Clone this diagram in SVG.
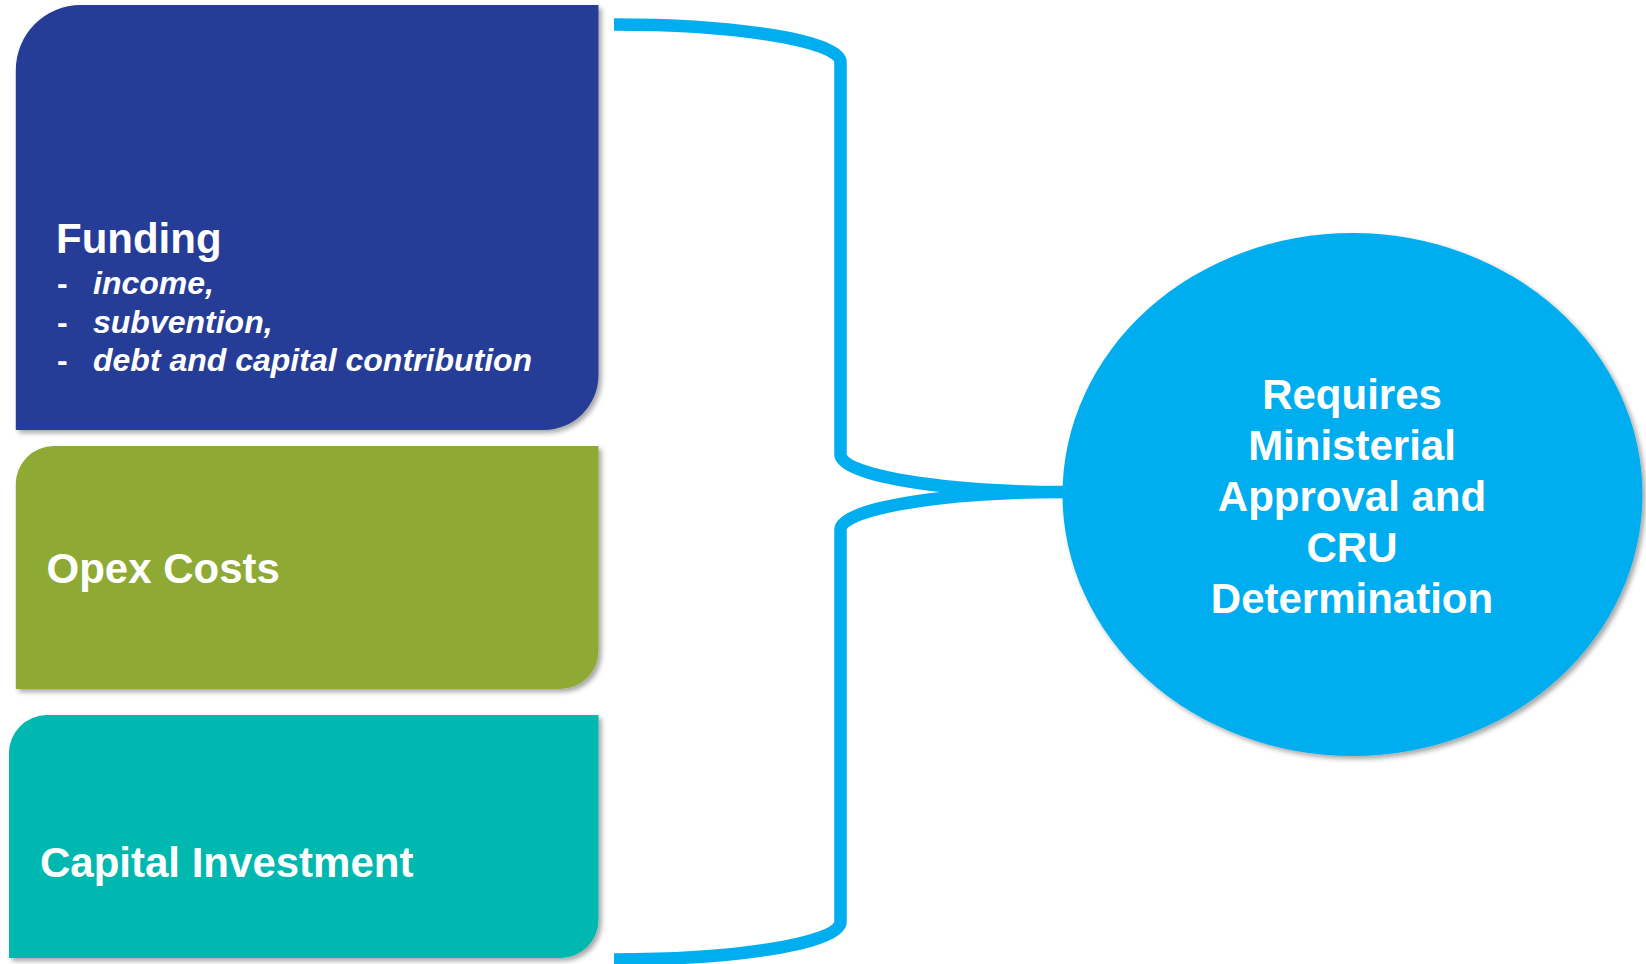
<svg xmlns="http://www.w3.org/2000/svg" width="1646" height="964" viewBox="0 0 1646 964">
  <style>
    .lbl { font-family: "Liberation Sans", Arial, sans-serif; font-weight: bold; fill: #ffffff; }
    .big { font-size: 42px; }
    .mid { text-anchor: middle; }
    .item { font-size: 32px; font-style: italic; }
    .dash { font-size: 32px; }
    .brace { fill: none; stroke: #00AEEF; stroke-width: 12.5; stroke-linecap: butt; }
  </style>
  <defs>
    <filter id="shadow" x="-5%" y="-5%" width="115%" height="115%">
      <feDropShadow dx="3" dy="3" stdDeviation="2.5" flood-color="#000000" flood-opacity="0.35"/>
    </filter>
  </defs>
  <rect width="1646" height="964" fill="#ffffff"/>

  <g id="connectors">
    <path class="brace" d="M 614 24.5 A 226.5 37.5 0 0 1 840.5 62 L 840.5 454.5 A 225.5 37.5 0 0 0 1066 492 A 225.5 37.5 0 0 0 840.5 529.5 L 840.5 922 A 226.5 37.5 0 0 1 614 959.5"/>
  </g>

  <g id="funding">
    <path filter="url(#shadow)" fill="#253C97" d="M 15.8 70 A 65 65 0 0 1 80.8 5 L 598.5 5 L 598.5 375 A 55 55 0 0 1 543.5 430 L 15.8 430 Z"/>
    <text class="lbl big" x="56" y="253">Funding</text>
    <text class="lbl dash" x="57" y="294">-</text>
    <text class="lbl item" x="93" y="294">income,</text>
    <text class="lbl dash" x="57" y="332.5">-</text>
    <text class="lbl item" x="93" y="332.5">subvention,</text>
    <text class="lbl dash" x="57" y="371">-</text>
    <text class="lbl item" x="93" y="371">debt and capital contribution</text>
  </g>

  <g id="opex">
    <path filter="url(#shadow)" fill="#8EAA36" d="M 15.8 484 A 38 38 0 0 1 53.8 446 L 598.5 446 L 598.5 651 A 38 38 0 0 1 560.5 689 L 15.8 689 Z"/>
    <text class="lbl big" x="46.5" y="583">Opex Costs</text>
  </g>

  <g id="capital">
    <path filter="url(#shadow)" fill="#00B8B0" d="M 9 753 A 38 38 0 0 1 47 715 L 598.5 715 L 598.5 920 A 38 38 0 0 1 560.5 958 L 9 958 Z"/>
    <text class="lbl big" x="40" y="877">Capital Investment</text>
  </g>

  <g id="approval">
    <ellipse filter="url(#shadow)" cx="1352.5" cy="494.5" rx="290" ry="261.5" fill="#00AEEF"/>
    <text class="lbl big mid" x="1352" y="409">Requires</text>
    <text class="lbl big mid" x="1352" y="460">Ministerial</text>
    <text class="lbl big mid" x="1352" y="511">Approval and</text>
    <text class="lbl big mid" x="1352" y="562">CRU</text>
    <text class="lbl big mid" x="1352" y="613">Determination</text>
  </g>
</svg>
